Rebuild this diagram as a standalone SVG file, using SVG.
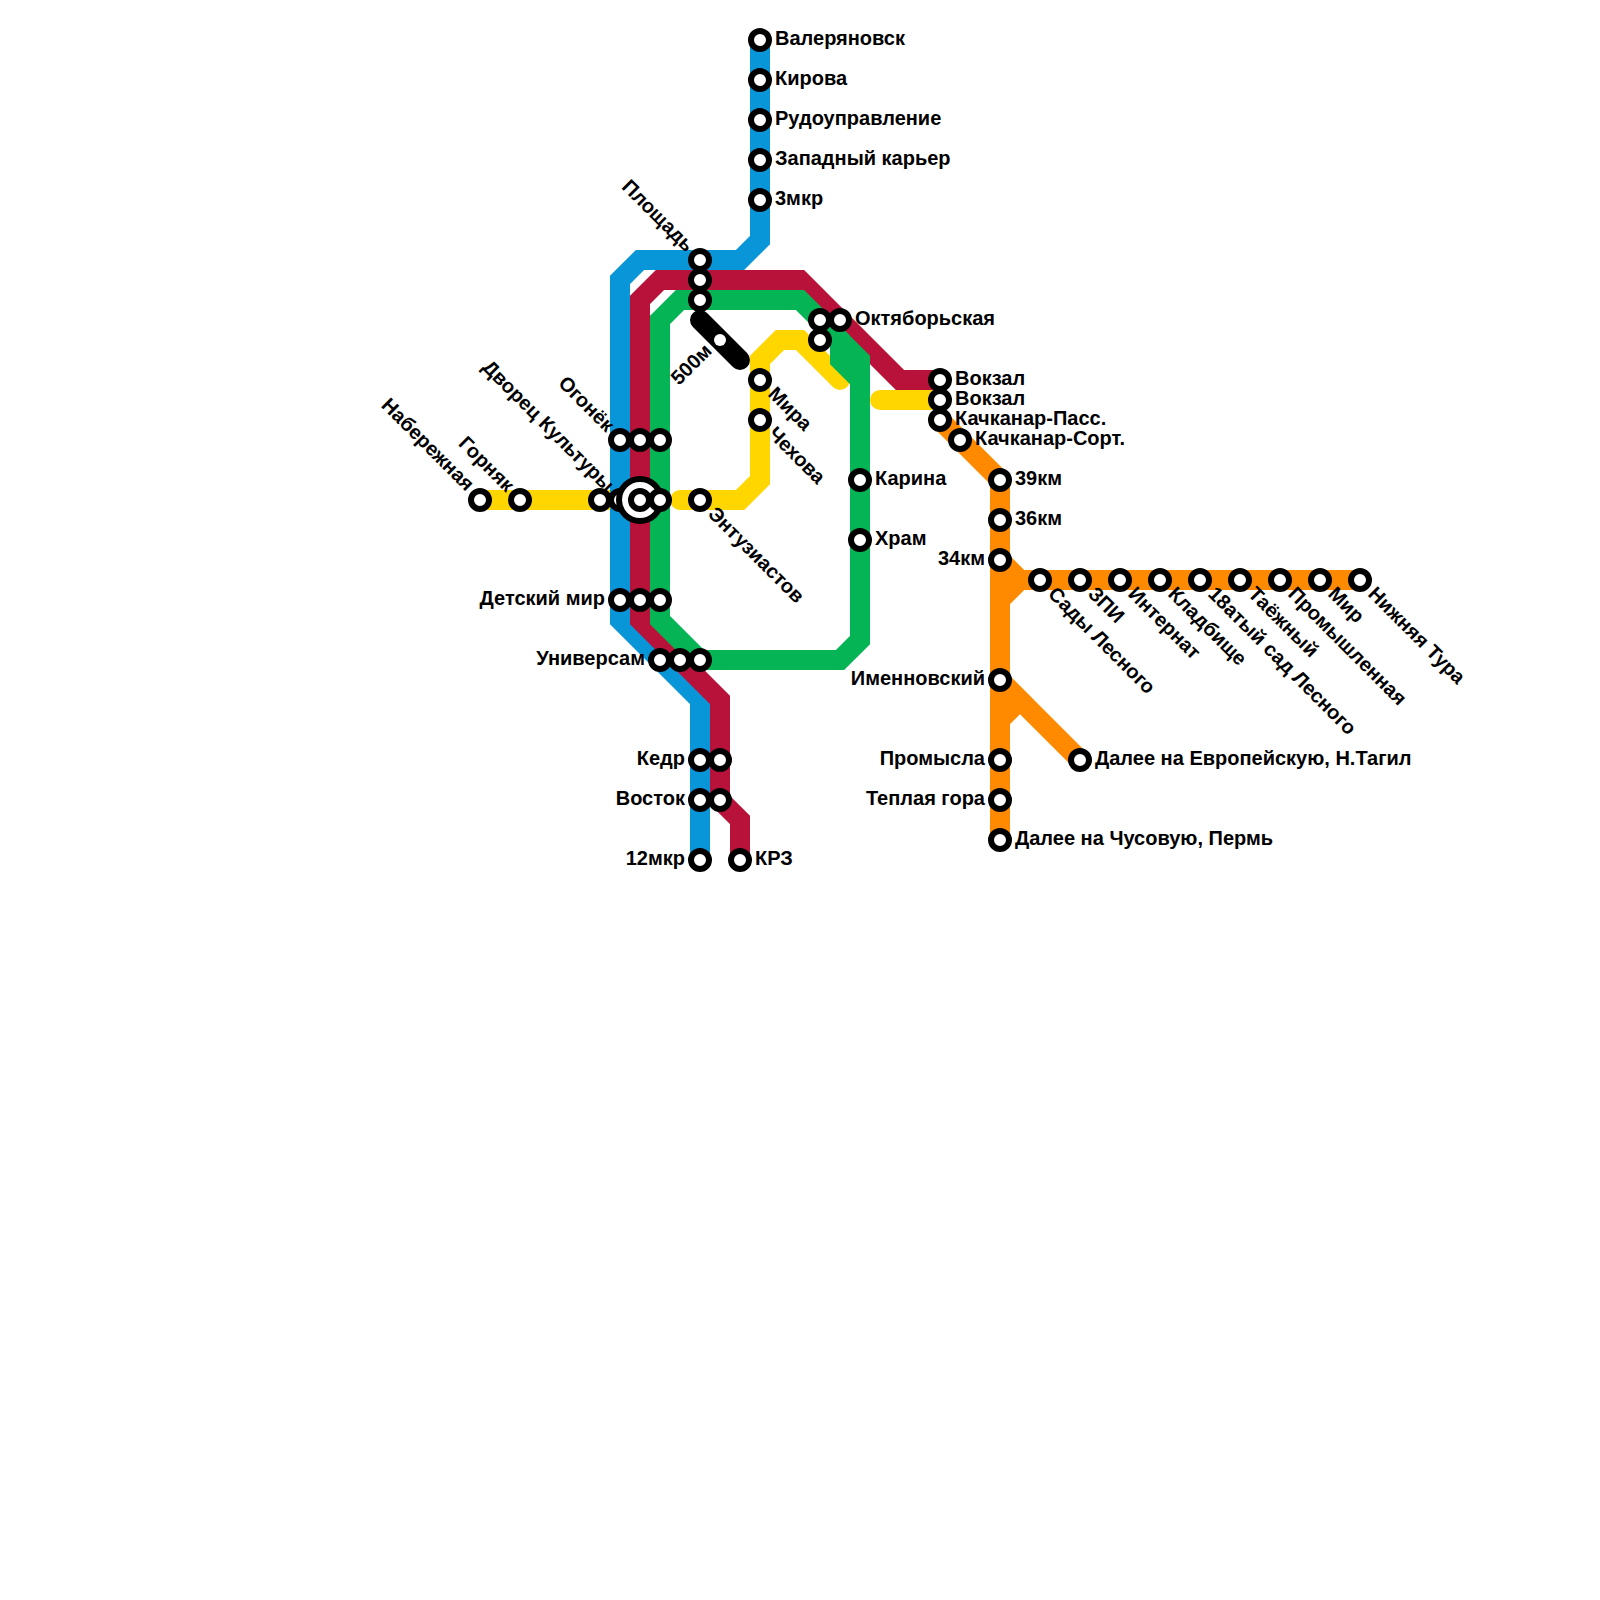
<svg xmlns="http://www.w3.org/2000/svg" width="1600" height="1600" viewBox="0 0 1600 1600">
<style>
.l{fill:none;stroke-width:20;stroke-linecap:round;stroke-linejoin:miter}
.s circle{fill:#fff;stroke:#000;stroke-width:6}
text{font-family:"Liberation Sans",Arial,sans-serif;font-weight:bold;font-size:20px;fill:#000}
.e{text-anchor:end}
</style>
<rect width="1600" height="1600" fill="#fff"/>
<g id="connectors">
<path class="l" stroke="#ffd600" d="M480 500H620"/>
<path class="l" stroke="#ffd600" d="M680 500H740L760 480V360L780 340H800L840 380"/>
<path class="l" stroke="#ffd600" d="M880 400H940"/>
<path class="l" stroke="#0996d8" d="M760 40V240L740 260H640L620 280V620L700 700V860"/>
<path class="l" stroke="#b9123a" d="M940 380H900L800 280H660L640 300V620L720 700V800L740 820V860"/>
<path class="l" stroke="#05b455" d="M660 320L680 300H800L860 360V640L840 660H700L660 620Z"/>
<path class="l" stroke="#05b455" d="M820 320L840 340V360L860 380"/>
<path class="l" stroke="#000" d="M700 320L740 360"/>
<path class="l" stroke="#ff8a00" d="M940 420L1000 480V840M1000 560L1020 580L1000 600M1020 580H1360M1000 680L1020 700L1000 720M1020 700L1080 760"/>
</g>
<g id="stations" class="s">
<g id="st-valer"><circle cx="760" cy="40" r="9"/><text x="775" y="45">Валеряновск</text></g>
<g id="st-kirova"><circle cx="760" cy="80" r="9"/><text x="775" y="85">Кирова</text></g>
<g id="st-rudo"><circle cx="760" cy="120" r="9"/><text x="775" y="125">Рудоуправление</text></g>
<g id="st-zapad"><circle cx="760" cy="160" r="9"/><text x="775" y="165">Западный карьер</text></g>
<g id="st-3mkr"><circle cx="760" cy="200" r="9"/><text x="775" y="205">3мкр</text></g>
<g id="st-ploshad"><circle cx="700" cy="260" r="9"/><circle cx="700" cy="280" r="9"/><circle cx="700" cy="300" r="9"/><text class="e" transform="translate(686 253) rotate(45)">Площадь</text></g>
<g id="st-500"><circle cx="720" cy="340" r="6" style="stroke:none"/><text class="e" transform="translate(713 352) rotate(-45)">500м</text></g>
<g id="st-nab"><circle cx="480" cy="500" r="9"/><text class="e" transform="translate(466 492) rotate(45)">Набережная</text></g>
<g id="st-gornyak"><circle cx="520" cy="500" r="9"/><text class="e" transform="translate(506 493) rotate(45)">Горняк</text></g>
<g id="st-dk"><circle cx="600" cy="500" r="9"/><circle cx="620" cy="500" r="9"/><text class="e" transform="translate(606 493) rotate(45)">Дворец Культуры</text></g>
<g id="st-ognek"><circle cx="620" cy="440" r="9"/><circle cx="640" cy="440" r="9"/><circle cx="660" cy="440" r="9"/><text class="e" transform="translate(606 433) rotate(45)">Огонёк</text></g>
<g id="st-hub"><circle cx="640" cy="500" r="21"/><circle cx="640" cy="500" r="9"/><circle cx="660" cy="500" r="9"/></g>
<g id="st-detsky"><circle cx="620" cy="600" r="9"/><circle cx="640" cy="600" r="9"/><circle cx="660" cy="600" r="9"/><text class="e" x="605" y="605">Детский мир</text></g>
<g id="st-univ"><circle cx="660" cy="660" r="9"/><circle cx="680" cy="660" r="9"/><circle cx="700" cy="660" r="9"/><text class="e" x="645" y="665">Универсам</text></g>
<g id="st-kedr"><circle cx="700" cy="760" r="9"/><circle cx="720" cy="760" r="9"/><text class="e" x="685" y="765">Кедр</text></g>
<g id="st-vostok"><circle cx="700" cy="800" r="9"/><circle cx="720" cy="800" r="9"/><text class="e" x="685" y="805">Восток</text></g>
<g id="st-12"><circle cx="700" cy="860" r="9"/><text class="e" x="685" y="865">12мкр</text></g>
<g id="st-krz"><circle cx="740" cy="860" r="9"/><text x="755" y="865">КРЗ</text></g>
<g id="st-entuz"><circle cx="700" cy="500" r="9"/><text transform="translate(707 515) rotate(45)">Энтузиастов</text></g>
<g id="st-mira"><circle cx="760" cy="380" r="9"/><text transform="translate(767 395) rotate(45)">Мира</text></g>
<g id="st-chehova"><circle cx="760" cy="420" r="9"/><text transform="translate(767 435) rotate(45)">Чехова</text></g>
<g id="st-okt"><circle cx="820" cy="320" r="9"/><circle cx="820" cy="340" r="9"/><circle cx="840" cy="320" r="9"/><text x="855" y="325">Октяборьская</text></g>
<g id="st-karina"><circle cx="860" cy="480" r="9"/><text x="875" y="485">Карина</text></g>
<g id="st-hram"><circle cx="860" cy="540" r="9"/><text x="875" y="545">Храм</text></g>
<g id="st-vokzal1"><circle cx="940" cy="380" r="9"/><text x="955" y="385">Вокзал</text></g>
<g id="st-vokzal2"><circle cx="940" cy="400" r="9"/><text x="955" y="405">Вокзал</text></g>
<g id="st-kp"><circle cx="940" cy="420" r="9"/><text x="955" y="425">Качканар-Пасс.</text></g>
<g id="st-ks"><circle cx="960" cy="440" r="9"/><text x="975" y="445">Качканар-Сорт.</text></g>
<g id="st-39"><circle cx="1000" cy="480" r="9"/><text x="1015" y="485">39км</text></g>
<g id="st-36"><circle cx="1000" cy="520" r="9"/><text x="1015" y="525">36км</text></g>
<g id="st-34"><circle cx="1000" cy="560" r="9"/><text class="e" x="985" y="565">34км</text></g>
<g id="st-imen"><circle cx="1000" cy="680" r="9"/><text class="e" x="985" y="685">Именновский</text></g>
<g id="st-prom"><circle cx="1000" cy="760" r="9"/><text class="e" x="985" y="765">Промысла</text></g>
<g id="st-tepl"><circle cx="1000" cy="800" r="9"/><text class="e" x="985" y="805">Теплая гора</text></g>
<g id="st-chus"><circle cx="1000" cy="840" r="9"/><text x="1015" y="845">Далее на Чусовую, Пермь</text></g>
<g id="st-evro"><circle cx="1080" cy="760" r="9"/><text x="1095" y="765">Далее на Европейскую, Н.Тагил</text></g>
<g id="st-sady"><circle cx="1040" cy="580" r="9"/><text transform="translate(1047 595) rotate(45)">Сады Лесного</text></g>
<g id="st-zpi"><circle cx="1080" cy="580" r="9"/><text transform="translate(1087 595) rotate(45)">ЗПИ</text></g>
<g id="st-intern"><circle cx="1120" cy="580" r="9"/><text transform="translate(1127 595) rotate(45)">Интернат</text></g>
<g id="st-kladb"><circle cx="1160" cy="580" r="9"/><text transform="translate(1167 595) rotate(45)">Кладбище</text></g>
<g id="st-18"><circle cx="1200" cy="580" r="9"/><text transform="translate(1207 595) rotate(45)">18атый сад Лесного</text></g>
<g id="st-taezh"><circle cx="1240" cy="580" r="9"/><text transform="translate(1247 595) rotate(45)">Таёжный</text></g>
<g id="st-prm"><circle cx="1280" cy="580" r="9"/><text transform="translate(1287 595) rotate(45)">Промышленная</text></g>
<g id="st-mir"><circle cx="1320" cy="580" r="9"/><text transform="translate(1327 595) rotate(45)">Мир</text></g>
<g id="st-nt"><circle cx="1360" cy="580" r="9"/><text transform="translate(1367 595) rotate(45)">Нижняя Тура</text></g>
</g>
</svg>
